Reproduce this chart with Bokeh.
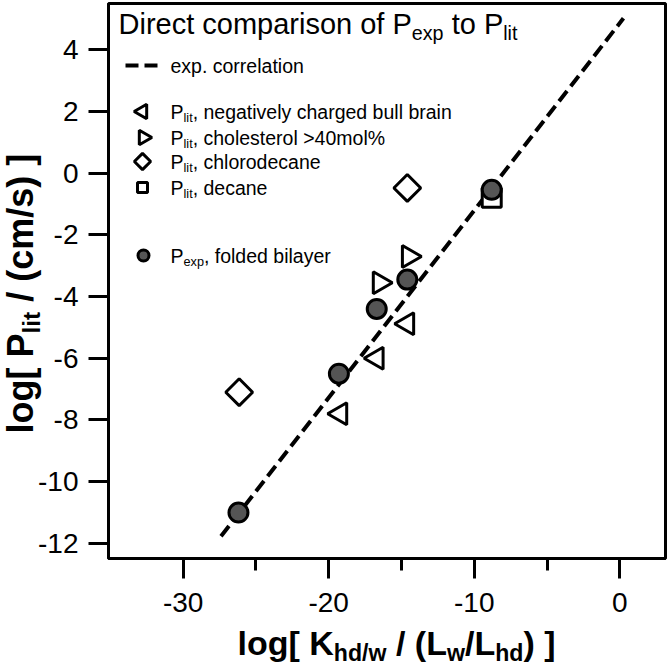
import math
from bokeh.plotting import figure
from bokeh.layouts import column
from bokeh.models import Label, FixedTicker, Range1d
from bokeh.embed import file_html
from bokeh.resources import INLINE

# ---------------- data ----------------
exp_x = [-26.2, -19.3, -16.7, -14.6, -8.8]
exp_y = [-11.0, -6.5, -4.4, -3.45, -0.54]
brain_x = [-19.2, -16.7, -14.6]
brain_y = [-7.8, -6.0, -4.88]
chol_x = [-16.5, -14.5]
chol_y = [-3.55, -2.7]
chloro_x = [-26.15, -14.6]
chloro_y = [-7.1, -0.48]
decane_x = [-8.8]
decane_y = [-0.8]
corr_x = [-27.4, 0.25]
corr_y = [-11.77, 5.02]

x_ticks = [-30, -20, -10, 0]
x_tick_labels = ["-30", "-20", "-10", "0"]
x_minor_ticks = [-25, -15, -5]
y_ticks = [-12, -10, -8, -6, -4, -2, 0, 2, 4]
y_tick_labels = ["-12", "-10", "-8", "-6", "-4", "-2", "0", "2", "4"]

FONT = "Liberation Sans"

# ---------------- text metrics (Arial / Liberation Sans) ----------------
REG = {' ': 278, '!': 278, '%': 889, '(': 333, ')': 333, ',': 278, '-': 333, '.': 278,
       '/': 278, '>': 584, '[': 278, ']': 278, 'D': 722, 'K': 667, 'L': 556, 'P': 667,
       'a': 556, 'b': 556, 'c': 500, 'd': 556, 'e': 556, 'f': 278, 'g': 556, 'h': 556,
       'i': 222, 'j': 222, 'k': 500, 'l': 222, 'm': 833, 'n': 556, 'o': 556, 'p': 556,
       'q': 556, 'r': 333, 's': 500, 't': 278, 'u': 556, 'v': 500, 'w': 722, 'x': 500,
       'y': 500, 'z': 500}
for d in "0123456789":
    REG[d] = 556
BOLD = {' ': 278, '(': 333, ')': 333, '/': 278, '[': 333, ']': 333, 'K': 722, 'L': 611,
        'P': 667, 'a': 556, 'c': 556, 'd': 611, 'g': 611, 'h': 611, 'i': 278, 'l': 278,
        'm': 889, 'o': 611, 's': 556, 't': 333, 'w': 778}


def text_width(text, size, bold=False):
    tbl = BOLD if bold else REG
    return sum(tbl.get(ch, 556) for ch in text) * size / 1000.0


# ---------------- main figure ----------------
W, H = 668, 668
p = figure(width=W, height=H, x_range=Range1d(-35.13, 3.14), y_range=Range1d(-12.49, 5.50),
           output_backend="svg", toolbar_location=None, title=None,
           min_border_left=108, min_border_right=3, min_border_top=3, min_border_bottom=H - 558)
p.background_fill_color = "white"
p.border_fill_color = "white"
p.outline_line_color = "black"
p.outline_line_width = 3
p.xgrid.visible = False
p.ygrid.visible = False

p.xaxis.ticker = FixedTicker(ticks=x_ticks, minor_ticks=x_minor_ticks)
p.yaxis.ticker = FixedTicker(ticks=y_ticks, minor_ticks=[])
p.xaxis.major_label_overrides = dict(zip(x_ticks, x_tick_labels))
p.yaxis.major_label_overrides = dict(zip(y_ticks, y_tick_labels))
for ax in (p.xaxis, p.yaxis):
    ax.axis_line_width = 3
    ax.axis_line_color = "black"
    ax.major_tick_line_width = 3
    ax.minor_tick_line_width = 3
    ax.major_tick_line_color = "black"
    ax.minor_tick_line_color = "black"
    ax.major_tick_in = 0
    ax.major_tick_out = 20
    ax.minor_tick_in = 0
    ax.minor_tick_out = 12
    ax.major_label_text_font = FONT
    ax.major_label_text_font_size = "28px"
    ax.major_label_text_color = "black"
p.xaxis.major_label_standoff = 14
p.yaxis.major_label_standoff = 10

DASH = "13 6"
p.line(corr_x, corr_y, line_color="black", line_width=4, line_dash=DASH)
p.scatter(decane_x, decane_y, marker="square", size=19, fill_color="white",
          line_color="black", line_width=3)
p.scatter(chloro_x, chloro_y, marker="square", angle=math.pi / 4, size=19,
          fill_color="white", line_color="black", line_width=3)
p.scatter(brain_x, brain_y, marker="triangle", angle=math.pi / 2, size=22,
          fill_color="white", line_color="black", line_width=3)
p.scatter(chol_x, chol_y, marker="triangle", angle=-math.pi / 2, size=22,
          fill_color="white", line_color="black", line_width=3)
p.scatter(exp_x, exp_y, marker="circle", size=19, fill_color="#555555",
          line_color="black", line_width=3)

# ---------------- transparent overlay for legend / titles (pixel coordinates) ----------------
ov = figure(width=W, height=H, x_range=Range1d(0, W), y_range=Range1d(-H, 0),
            output_backend="svg", toolbar_location=None, title=None,
            x_axis_location=None, y_axis_location=None,
            min_border_left=0, min_border_right=0, min_border_top=0, min_border_bottom=0)
ov.background_fill_alpha = 0
ov.border_fill_alpha = 0
ov.outline_line_color = None
ov.grid.visible = False
ov.margin = (-H, 0, 0, 0)
for fig in (p, ov):
    if "frame_align" in fig.properties():
        fig.frame_align = False

# legend keys (layout positions, page pixels)
KEY_X = 142
ROW_Y = {"corr": 65, "brain": 111, "chol": 137, "chloro": 161, "decane": 187, "exp": 255}
TEXT_X = 170
ov.line([KEY_X - 17, KEY_X + 16], [-ROW_Y["corr"]] * 2, line_color="black", line_width=4,
        line_dash=DASH)
ov.scatter([KEY_X], [-ROW_Y["brain"]], marker="triangle", angle=math.pi / 2, size=14.5,
           fill_color="white", line_color="black", line_width=3)
ov.scatter([KEY_X + 1], [-ROW_Y["chol"]], marker="triangle", angle=-math.pi / 2, size=14.5,
           fill_color="white", line_color="black", line_width=3)
ov.scatter([KEY_X], [-ROW_Y["chloro"]], marker="square", angle=math.pi / 4, size=11.5,
           fill_color="white", line_color="black", line_width=3)
ov.scatter([KEY_X], [-ROW_Y["decane"]], marker="square", size=10,
           fill_color="white", line_color="black", line_width=3)
ov.scatter([KEY_X + 1], [-ROW_Y["exp"]], marker="circle", size=11,
           fill_color="#555555", line_color="black", line_width=3)

BASE_K = 0.34   # rendering offset of the alphabetic baseline, fraction of font size


def put(parts, px, py, size, bold=False, vertical=False, sub_ratio=0.65, drop=0.22):
    pos = 0.0
    for txt, sub in parts:
        s = size * sub_ratio if sub else size
        d = size * drop if sub else 0.0
        corr = BASE_K * s
        core = txt.strip(" ")
        lead = len(txt) - len(txt.lstrip(" "))
        trail = len(txt) - len(txt.rstrip(" "))
        pos += text_width(" " * lead, s, bold)
        if core:
            if vertical:
                x, y, ang = px + d - corr, -py + pos, math.pi / 2
            else:
                x, y, ang = px + pos, -(py + d - corr), 0
            ov.add_layout(Label(x=x, y=y, text=core, text_font=FONT,
                                text_font_size=f"{s:.1f}px",
                                text_font_style="bold" if bold else "normal",
                                text_color="black", text_baseline="alphabetic",
                                text_align="left", angle=ang))
        pos += text_width(core, s, bold) + text_width(" " * trail, s, bold)


put([("Direct comparison of P", False), ("exp", True), (" to P", False), ("lit", True)],
    118, 33, 29, sub_ratio=0.68, drop=0.2)
LS = 19.5
put([("exp. correlation", False)], TEXT_X, ROW_Y["corr"] + 7, LS)
put([("P", False), ("lit", True), (", negatively charged bull brain", False)],
    TEXT_X, ROW_Y["brain"] + 7, LS)
put([("P", False), ("lit", True), (", cholesterol >40mol%", False)],
    TEXT_X, ROW_Y["chol"] + 7, LS)
put([("P", False), ("lit", True), (", chlorodecane", False)], TEXT_X, ROW_Y["chloro"] + 7, LS)
put([("P", False), ("lit", True), (", decane", False)], TEXT_X, ROW_Y["decane"] + 7, LS)
put([("P", False), ("exp", True), (", folded bilayer", False)], TEXT_X, ROW_Y["exp"] + 7, LS)

# axis titles
put([("log[ K", False), ("hd/w", True), (" / (L", False), ("w", True), ("/L", False),
     ("hd", True), (") ]", False)], 237, 654, 34, bold=True, sub_ratio=0.68, drop=0.2)
put([("log[ P", False), ("lit", True), (" / (cm/s) ]", False)], 32, 433, 36, bold=True,
    vertical=True, sub_ratio=0.68, drop=0.2)

layout = column(p, ov)
open("out.html", "w").write(file_html(layout, INLINE))
